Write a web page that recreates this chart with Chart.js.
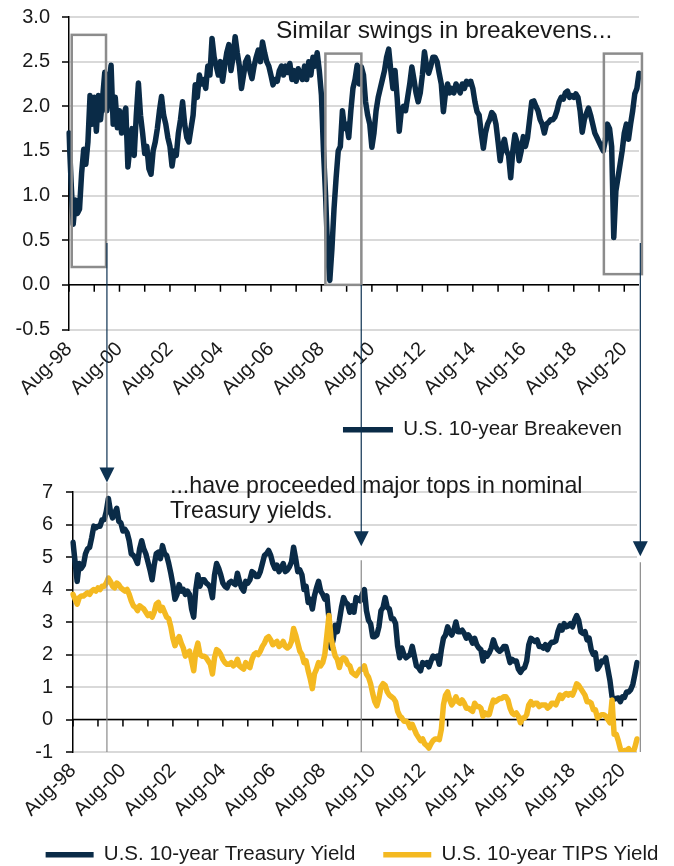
<!DOCTYPE html>
<html><head><meta charset="utf-8">
<script src="https://cdn.jsdelivr.net/npm/chart.js@4.4.1/dist/chart.umd.min.js"></script>
<style>
html,body{margin:0;padding:0;background:#fff;width:674px;height:866px;overflow:hidden;}
canvas{position:absolute;left:0;}
#top{top:-7px}
#bot{top:440px}
#ovl{top:0;pointer-events:none}
</style></head><body>
<canvas id="top" width="674" height="457"></canvas>
<canvas id="bot" width="704" height="435"></canvas>
<canvas id="ovl" width="674" height="866"></canvas>
<script>
// ---------- DATA (monthly, Aug-98 .. Mar-21) ----------
const monthNames = ['Jan','Feb','Mar','Apr','May','Jun','Jul','Aug','Sep','Oct','Nov','Dec'];
const months = [];
for (let i = 0; i < 272; i++) {
  const k = 7 + i;
  months.push(monthNames[k % 12] + '-' + String((1998 + Math.floor(k / 12)) % 100).padStart(2, '0'));
}
const xTickLabels = ['Aug-98','Aug-00','Aug-02','Aug-04','Aug-06','Aug-08','Aug-10','Aug-12','Aug-14','Aug-16','Aug-18','Aug-20'];

const breakeven = [
  1.70,1.15,0.68,0.95,0.80,
  0.85,1.25,1.52,1.35,1.60,2.12,1.80,2.10,1.72,2.12,1.85,2.10,
  2.38,1.95,2.25,2.46,1.80,2.10,1.76,1.95,1.70,1.90,1.98,1.32,
  1.55,1.75,1.45,1.90,2.26,1.90,1.70,1.47,1.55,1.30,1.24,1.50,
  1.60,1.75,1.95,2.11,1.90,1.80,1.65,1.55,1.33,1.50,1.45,1.70,
  1.85,2.05,1.80,1.65,1.60,1.75,1.90,2.24,2.10,2.35,2.25,2.30,
  2.20,2.45,2.35,2.76,2.55,2.45,2.35,2.50,2.28,2.45,2.60,2.69,
  2.40,2.55,2.78,2.60,2.45,2.20,2.35,2.50,2.55,2.40,2.31,2.45,
  2.55,2.63,2.50,2.72,2.60,2.50,2.45,2.35,2.24,2.30,2.28,2.40,
  2.45,2.35,2.45,2.38,2.48,2.30,2.40,2.28,2.42,2.35,2.30,2.45,
  2.30,2.50,2.35,2.55,2.45,2.60,2.40,2.13,1.50,1.00,0.35,0.05,
  0.40,0.85,1.20,1.50,1.55,1.95,1.75,1.80,1.65,1.95,2.20,2.30,
  2.46,2.25,2.44,2.35,2.05,1.90,1.80,1.54,1.70,1.95,2.10,2.20,
  2.30,2.40,2.55,2.64,2.40,2.20,2.40,2.10,1.72,1.95,2.00,1.95,
  2.10,2.25,2.44,2.30,2.15,2.05,2.15,2.35,2.61,2.45,2.37,2.45,
  2.55,2.55,2.50,2.37,2.25,1.94,2.15,2.25,2.15,2.20,2.15,2.25,
  2.20,2.15,2.25,2.20,2.28,2.25,2.28,2.20,2.05,1.94,1.90,1.70,
  1.53,1.70,1.80,1.85,1.93,1.90,1.80,1.60,1.39,1.55,1.63,1.50,
  1.45,1.20,1.50,1.68,1.60,1.39,1.50,1.66,1.55,1.65,1.85,2.05,
  2.06,2.00,1.95,1.85,1.80,1.70,1.80,1.82,1.85,1.85,1.88,1.95,
  2.05,2.10,2.08,2.15,2.17,2.10,2.12,2.10,2.14,2.10,1.95,1.71,
  1.85,1.92,1.98,1.90,1.80,1.70,1.65,1.60,1.55,1.50,1.62,1.80,
  1.75,1.55,0.53,1.05,1.20,1.35,1.50,1.70,1.80,1.63,1.80,1.95,
  2.14,2.20,2.37
];

const treasury = [
  5.45,4.85,4.25,4.80,4.65,
  4.75,5.10,5.25,5.30,5.60,5.95,5.90,5.95,5.95,6.15,6.15,6.40,
  6.80,6.40,6.20,6.35,6.50,6.10,6.05,5.80,5.85,5.75,5.50,5.10,
  5.05,4.95,4.80,5.25,5.50,5.25,5.10,4.85,4.60,4.30,4.75,5.10,
  5.15,4.95,5.35,5.10,5.05,4.80,4.50,4.15,3.70,3.85,4.15,3.95,
  4.00,3.85,3.95,3.85,3.40,3.15,4.00,4.45,4.10,4.30,4.30,4.20,
  4.15,4.05,3.75,4.45,4.80,4.65,4.45,4.20,4.10,4.05,4.20,4.25,
  4.20,4.15,4.50,4.25,4.05,3.95,4.25,4.20,4.30,4.55,4.50,4.40,
  4.40,4.55,4.80,5.05,5.10,5.20,5.05,4.80,4.65,4.75,4.55,4.65,
  4.80,4.55,4.60,4.70,4.85,5.30,4.95,4.55,4.60,4.45,4.00,4.10,
  3.60,3.70,3.40,3.80,4.05,4.25,3.95,3.85,3.70,3.80,3.10,2.20,
  2.45,2.90,2.70,3.05,3.45,3.75,3.60,3.55,3.30,3.50,3.30,3.75,
  3.70,3.65,3.85,4.00,3.35,3.05,2.95,2.55,2.55,2.60,2.85,3.35,
  3.45,3.75,3.45,3.40,3.10,3.10,2.95,2.25,1.90,2.20,2.00,1.90,
  1.95,2.00,2.25,1.95,1.65,1.60,1.50,1.75,1.70,1.75,1.62,1.80,
  1.95,1.90,1.95,1.70,2.15,2.50,2.60,2.85,2.70,2.60,2.75,3.00,
  2.70,2.70,2.75,2.65,2.50,2.60,2.50,2.35,2.50,2.30,2.20,2.15,
  1.80,2.05,1.95,2.05,2.20,2.45,2.25,2.15,2.10,2.15,2.25,2.25,
  2.00,1.75,1.85,1.80,1.80,1.55,1.45,1.55,1.60,1.80,2.30,2.50,
  2.45,2.40,2.45,2.25,2.25,2.20,2.30,2.15,2.30,2.38,2.38,2.42,
  2.70,2.88,2.75,2.95,2.85,2.88,2.95,2.85,3.05,3.20,3.05,2.70,
  2.65,2.70,2.45,2.50,2.15,2.00,2.05,1.55,1.65,1.80,1.78,1.90,
  1.55,1.20,0.70,0.63,0.65,0.66,0.55,0.70,0.68,0.85,0.85,0.92,
  1.08,1.40,1.75
];

const tips = [
  3.85,3.70,3.55,3.75,3.80,
  3.80,3.85,3.90,3.85,3.95,4.00,3.95,4.05,4.00,4.10,4.10,4.20,
  4.35,4.25,4.10,4.05,4.20,4.15,4.05,4.00,3.95,4.00,3.85,3.65,
  3.50,3.45,3.35,3.50,3.45,3.40,3.30,3.20,3.25,3.15,3.30,3.55,
  3.60,3.35,3.45,3.30,3.15,3.10,2.85,2.50,2.27,2.45,2.55,2.35,
  2.20,1.95,2.05,2.10,1.80,1.50,2.10,2.35,2.00,1.95,1.95,1.90,
  1.80,1.70,1.40,1.90,2.15,2.10,2.00,1.85,1.75,1.70,1.70,1.75,
  1.65,1.70,1.85,1.65,1.60,1.55,1.75,1.65,1.60,1.85,2.00,2.05,
  2.00,2.10,2.25,2.35,2.50,2.55,2.45,2.30,2.35,2.40,2.25,2.30,
  2.40,2.25,2.20,2.25,2.40,2.80,2.60,2.35,2.10,2.00,1.75,1.80,
  1.50,1.25,0.95,1.40,1.55,1.75,1.65,1.75,2.00,2.60,3.20,2.50,
  2.20,1.95,1.85,1.60,1.85,1.90,1.85,1.70,1.65,1.45,1.40,1.35,
  1.45,1.55,1.55,1.65,1.40,1.30,1.10,0.80,0.55,0.42,0.65,1.00,
  1.10,1.05,0.85,0.75,0.70,0.65,0.55,0.25,0.11,0.05,-0.05,-0.05,
  -0.10,-0.25,-0.15,-0.30,-0.45,-0.55,-0.65,-0.60,-0.75,-0.80,-0.88,-0.75,
  -0.65,-0.60,-0.60,-0.62,-0.30,0.45,0.75,0.85,0.60,0.45,0.55,0.70,
  0.55,0.50,0.60,0.50,0.35,0.35,0.30,0.25,0.50,0.40,0.40,0.35,
  0.10,0.20,0.15,0.15,0.40,0.60,0.55,0.60,0.65,0.65,0.70,0.70,
  0.60,0.35,0.20,0.15,0.20,0.10,-0.10,0.05,0.05,0.15,0.45,0.55,
  0.45,0.50,0.50,0.40,0.45,0.45,0.45,0.35,0.40,0.50,0.50,0.45,
  0.60,0.75,0.65,0.75,0.80,0.75,0.80,0.75,0.90,1.10,1.05,0.95,
  0.85,0.75,0.55,0.55,0.50,0.30,0.30,0.05,0.10,0.15,0.15,0.10,
  0.00,-0.10,0.60,-0.45,-0.45,-0.65,-0.90,-1.05,-0.95,-0.95,-0.90,-1.00,
  -1.05,-0.85,-0.60
];

// ---------- annotations (in data coordinates) ----------
const boxes = [
  {m0: 1.3,   m1: 17.6,  hi: 2.80, lo: 0.20},
  {m0: 121.9, m1: 139.0, hi: 2.59, lo: 0.00},
  {m0: 254.3, m1: 272.4, hi: 2.59, lo: 0.12}
];
const arrows = [
  {m: 16.3,  fromVal: 0.47, tipVal: 7.29, guideFrom: 7.29},
  {m: 138.5, fromVal: 0.00, tipVal: 5.33, guideFrom: 4.90},
  {m: 272.6, fromVal: 0.47, tipVal: 5.02, guideFrom: 4.84}
];
const topNote = {text: 'Similar swings in breakevens...', m: 98.4, val: 2.77};
const botNote = [
  {text: '...have proceeded major tops in nominal', m: 46.6, val: 6.98},
  {text: 'Treasury yields.', m: 46.6, val: 6.19}
];

// ---------- styling ----------
const NAVY = '#0a2b47', GOLD = '#f4b921', GRID = '#d9d9d9', TXT = '#1a1a1a';
const FONT = '"Liberation Sans", Arial, sans-serif';
Chart.defaults.font.family = FONT;
Chart.defaults.color = TXT;

const zeroAxis = {
  id: 'zeroAxis',
  beforeDatasetsDraw(chart) {
    const {ctx, chartArea: a, scales: {x, y}} = chart;
    const y0 = y.getPixelForValue(0);
    ctx.save();
    ctx.strokeStyle = '#000';
    ctx.lineWidth = 1.5;
    ctx.beginPath();
    ctx.moveTo(a.left, y0); ctx.lineTo(a.right, y0);
    for (let i = 0; i < months.length; i += 12) {
      const px = x.getPixelForValue(i);
      ctx.moveTo(px, y0); ctx.lineTo(px, y0 + 7);
    }
    ctx.stroke();
    ctx.restore();
  }
};

function xScale(h, pad) {
  return {
    type: 'category', offset: false,
    afterFit(s) { s.height = h; },
    grid: {display: false, drawTicks: false},
    border: {display: false},
    ticks: {
      autoSkip: false, maxRotation: 45, minRotation: 45, padding: pad,
      font: {size: 20}, color: TXT,
      callback(v, i) { const l = months[i]; return xTickLabels.includes(l) ? l : null; }
    }
  };
}

const lineStyle = {borderWidth: 5.5, borderCapStyle: 'round', borderJoinStyle: 'round', pointRadius: 0, tension: 0};

const topChart = new Chart(document.getElementById('top'), {
  type: 'line',
  data: {
    labels: months,
    datasets: [Object.assign({
      label: 'U.S. 10-year Breakeven', data: breakeven,
      borderColor: NAVY, backgroundColor: NAVY
    }, lineStyle)]
  },
  options: {
    responsive: false, animation: false, events: [],
    layout: {padding: {top: 8, right: 35, left: 0, bottom: 0}},
    scales: {
      x: xScale(73, 8),
      y: {
        min: -0.5, max: 3.0,
        afterFit(s) { s.width = 69; },
        ticks: {stepSize: 0.5, autoSkip: false, padding: 12, font: {size: 20}, color: TXT, callback: v => Number(v).toFixed(1)},
        grid: {color: GRID, lineWidth: 2, tickColor: '#000', tickLength: 7, tickWidth: 1.5},
        border: {color: '#000', width: 1.5}
      }
    },
    plugins: {
      tooltip: {enabled: false},
      legend: {
        position: 'bottom', align: 'end',
        labels: {usePointStyle: true, pointStyle: 'line', pointStyleWidth: 50, padding: 17,
                 font: {size: 20.5}, color: TXT}
      }
    }
  },
  plugins: [zeroAxis]
});

const botChart = new Chart(document.getElementById('bot'), {
  type: 'line',
  data: {
    labels: months,
    datasets: [Object.assign({
      label: 'U.S. 10-year Treasury Yield', data: treasury, order: 1,
      borderColor: NAVY, backgroundColor: NAVY
    }, lineStyle), Object.assign({
      label: 'U.S. 10-year TIPS Yield', data: tips, order: 0,
      borderColor: GOLD, backgroundColor: GOLD
    }, lineStyle)]
  },
  options: {
    responsive: false, animation: false, events: [],
    layout: {padding: {top: 52, right: 0, left: 0, bottom: 0}},
    scales: {
      x: xScale(64.5, 7),
      y: {
        min: -1, max: 7,
        afterFit(s) { s.width = 73; },
        ticks: {stepSize: 1, autoSkip: false, padding: 13, font: {size: 20}, color: TXT},
        grid: {color: GRID, lineWidth: 2, tickColor: '#000', tickLength: 7, tickWidth: 1.5},
        border: {color: '#000', width: 1.5}
      },
      yR: {
        type: 'linear', position: 'right', display: true,
        afterFit(s) { s.width = 67; },
        ticks: {display: false}, grid: {display: false, drawTicks: false}, border: {display: false}
      }
    },
    plugins: {
      tooltip: {enabled: false},
      legend: {
        position: 'bottom', align: 'center',
        labels: {usePointStyle: true, pointStyle: 'line', pointStyleWidth: 48, padding: 28,
                 font: {size: 20.5}, color: TXT,
                 sort: (a, b) => a.datasetIndex - b.datasetIndex}
      }
    }
  },
  plugins: [zeroAxis]
});

// ---------- overlay: boxes, arrows, notes ----------
const TOP_OFF = -7, BOT_OFF = 440;
const ov = document.getElementById('ovl').getContext('2d');
const tx = topChart.scales.x, ty = topChart.scales.y;
const bx = botChart.scales.x, by = botChart.scales.y;

ov.save();
ov.strokeStyle = '#8c8c8c';
ov.lineWidth = 2.5;
boxes.forEach(b => {
  const x1 = tx.getPixelForValue(b.m0), x2 = tx.getPixelForValue(b.m1);
  const y1 = TOP_OFF + ty.getPixelForValue(b.hi), y2 = TOP_OFF + ty.getPixelForValue(b.lo);
  ov.strokeRect(x1, y1, x2 - x1, y2 - y1);
});
ov.restore();

arrows.forEach(a => {
  const x = bx.getPixelForValue(a.m);
  const yStart = TOP_OFF + ty.getPixelForValue(a.fromVal);
  const yTip = BOT_OFF + by.getPixelForValue(a.tipVal);
  const yGuide = BOT_OFF + by.getPixelForValue(a.guideFrom);
  const yBottom = BOT_OFF + by.getPixelForValue(-1);
  ov.save();
  ov.strokeStyle = '#8a8a8a'; ov.lineWidth = 1.2;
  ov.beginPath(); ov.moveTo(x, yGuide); ov.lineTo(x, yBottom); ov.stroke();
  ov.strokeStyle = '#0d3252'; ov.fillStyle = '#0d3252'; ov.lineWidth = 1.2;
  ov.beginPath(); ov.moveTo(x, yStart); ov.lineTo(x, yTip - 12); ov.stroke();
  ov.beginPath();
  ov.moveTo(x - 7.5, yTip - 15); ov.lineTo(x + 7.5, yTip - 15); ov.lineTo(x, yTip);
  ov.closePath(); ov.fill();
  ov.restore();
});

ov.save();
ov.fillStyle = TXT;
ov.textBaseline = 'alphabetic';
ov.font = '24.5px ' + FONT;
ov.fillText(topNote.text, tx.getPixelForValue(topNote.m), TOP_OFF + ty.getPixelForValue(topNote.val));
ov.font = '23.2px ' + FONT;
botNote.forEach(n => {
  ov.fillText(n.text, bx.getPixelForValue(n.m), BOT_OFF + by.getPixelForValue(n.val));
});
ov.restore();
</script>
</body></html>
